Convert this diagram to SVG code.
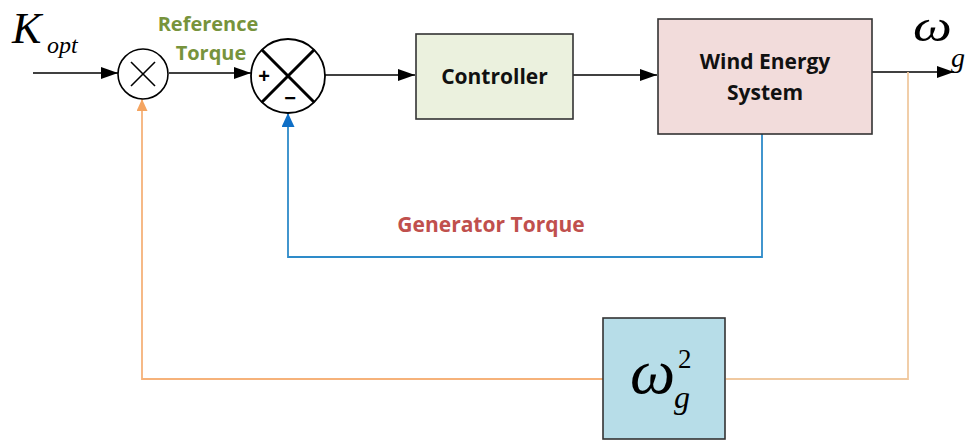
<svg xmlns="http://www.w3.org/2000/svg" width="979" height="442" viewBox="0 0 979 442">
<style>
.blk{stroke:#000;stroke-width:1.6;fill:none}
.box{stroke:#333;stroke-width:1.6}
.lbl{font-family:"Open Sans","Liberation Sans",sans-serif;font-weight:bold;text-anchor:middle}
.math{font-family:"Liberation Serif","Times New Roman",serif;font-style:italic}
</style>
<defs>
<marker id="ab2" markerWidth="17" markerHeight="12" refX="17" refY="6" orient="auto" markerUnits="userSpaceOnUse"><path d="M0,0 L17,6 L0,12 z" fill="#000"/></marker>
<marker id="ao" markerWidth="12" markerHeight="11" refX="12" refY="5.5" orient="auto" markerUnits="userSpaceOnUse"><path d="M0,0 L12,5.5 L0,11 z" fill="#f4a460"/></marker>
<marker id="abl" markerWidth="14" markerHeight="13" refX="14" refY="6.5" orient="auto" markerUnits="userSpaceOnUse"><path d="M0,0 L14,6.5 L0,13 z" fill="#0f6fc6"/></marker>
</defs>
<rect width="979" height="442" fill="#fff"/>
<g id="connectors">
<line x1="33" y1="73" x2="118" y2="73" class="blk" marker-end="url(#ab2)"/>
<line x1="169" y1="73" x2="251" y2="73" class="blk" marker-end="url(#ab2)"/>
<line x1="325" y1="75" x2="415" y2="75" class="blk" marker-end="url(#ab2)"/>
<line x1="573" y1="75" x2="657" y2="75" class="blk" marker-end="url(#ab2)"/>
<line x1="872" y1="72" x2="954" y2="72" class="blk" marker-end="url(#ab2)"/>
<polyline points="762,134 762,257 288,257 288,113" fill="none" stroke="#2e8bc9" stroke-width="1.8" marker-end="url(#abl)"/>
<polyline points="908,72 908,379 726,379" fill="none" stroke="#f0c9a0" stroke-width="1.8"/>
<polyline points="603,379 142,379 142,99" fill="none" stroke="#f6b27a" stroke-width="1.8" marker-end="url(#ao)"/>
</g>
<g id="mult">
<circle cx="143" cy="74" r="25" fill="#fff" stroke="#000" stroke-width="1.6"/>
<line x1="131" y1="62" x2="155" y2="86" class="blk"/>
<line x1="155" y1="62" x2="131" y2="86" class="blk"/>
</g>
<g id="sum">
<circle cx="288" cy="76" r="37" fill="#fff" stroke="#000" stroke-width="1.8"/>
<line x1="261.8" y1="49.8" x2="314.2" y2="102.2" stroke="#000" stroke-width="3"/>
<line x1="314.2" y1="49.8" x2="261.8" y2="102.2" stroke="#000" stroke-width="3"/>
<text x="264" y="83" font-family="Liberation Sans,sans-serif" font-weight="bold" font-size="20" text-anchor="middle">+</text>
<text x="290" y="105" font-family="Liberation Sans,sans-serif" font-weight="bold" font-size="20" text-anchor="middle">−</text>
</g>
<g id="controller">
<rect x="416" y="34" width="157" height="85" fill="#ebf1de" class="box"/>
<text x="494.5" y="84" class="lbl" font-size="21" fill="#111">Controller</text>
</g>
<g id="wind">
<rect x="658" y="19" width="214" height="115" fill="#f2dcdb" class="box"/>
<text x="765" y="69" class="lbl" font-size="21" fill="#111">Wind Energy</text>
<text x="765" y="100" class="lbl" font-size="21" fill="#111">System</text>
</g>
<g id="square">
<rect x="603" y="318" width="122" height="121" fill="#b7dde8" class="box"/>
<text x="630" y="393" class="math" font-size="64">ω</text>
<text x="678" y="368" font-family="Liberation Serif,serif" font-size="27">2</text>
<text x="674" y="408" class="math" font-size="32">g</text>
</g>
<g id="labels">
<text x="12" y="43" class="math" font-size="44">K</text>
<text x="47" y="53" class="math" font-size="24">opt</text>
<text x="0" y="41" class="math" font-size="44" transform="translate(913,0) scale(1.25,1)">ω</text>
<text x="951" y="67" class="math" font-size="28">g</text>
<text x="208" y="31" class="lbl" font-size="20" fill="#77933c">Reference</text>
<text x="211" y="60" class="lbl" font-size="20" fill="#77933c">Torque</text>
<text x="491" y="232" class="lbl" font-size="21" fill="#c0504d">Generator Torque</text>
</g>
</svg>
